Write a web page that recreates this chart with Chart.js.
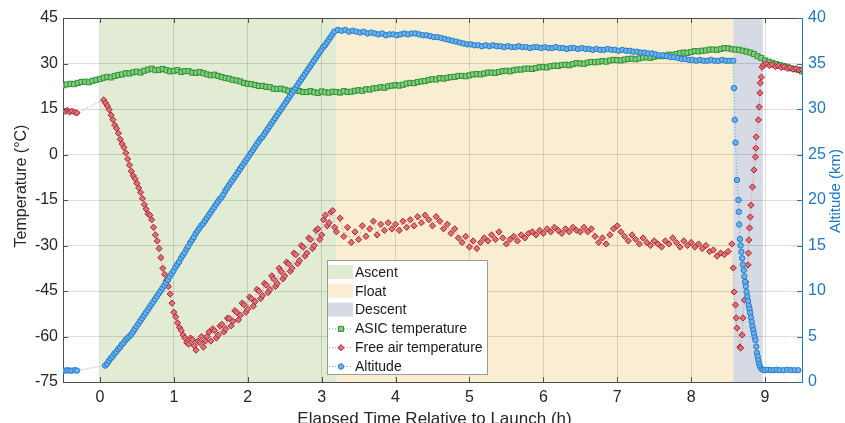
<!DOCTYPE html>
<html>
<head>
<meta charset="utf-8">
<script src="https://cdn.jsdelivr.net/npm/chart.js@4.4.0/dist/chart.umd.min.js"></script>
<style>
  html, body { margin: 0; padding: 0; background: #fff; }
  #wrap { width: 845px; height: 423px; }
</style>
</head>
<body>
<div id="wrap"><canvas id="flight" width="845" height="423"></canvas></div>
<script>
// flight phases (hours after launch)
const phaseNames = ["Ascent", "Float", "Descent"];
const phaseStart = [0, 3.2, 8.57];
const phaseEnd = [3.2, 8.57, 8.97];

const hourTicks = [0, 1, 2, 3, 4, 5, 6, 7, 8, 9];

// ASIC temperature, logged every 0.05 h from -0.5 h
const asicStart = -0.5, asicStep = 0.05;
const asicTemp = [
  22.8, 23.1, 23.3, 23.2, 23.6, 23.9, 24.0, 23.8, 24.3, 24.6,
  24.9, 25.3, 25.6, 25.4, 25.9, 26.2, 26.4, 26.8, 26.7, 27.1,
  27.3, 27.0, 27.6, 28.0, 28.3, 27.8, 27.9, 28.2, 27.8, 27.4,
  27.6, 27.8, 27.2, 27.5, 27.5, 27.0, 26.9, 27.2, 26.8, 26.4,
  26.1, 26.3, 25.9, 25.5, 25.2, 25.0, 24.6, 24.4, 24.1, 23.6,
  23.3, 23.2, 22.9, 22.6, 22.6, 22.3, 22.2, 21.7, 21.6, 21.7,
  21.4, 21.0, 21.0, 21.2, 20.9, 20.6, 20.6, 20.9, 20.5, 20.3,
  20.8, 20.5, 20.4, 20.7, 20.6, 20.4, 20.9, 20.6, 20.7, 21.0,
  21.2, 21.0, 21.5, 21.4, 21.8, 21.9, 22.2, 22.0, 22.5, 22.7,
  22.9, 22.7, 23.0, 23.4, 23.6, 23.5, 23.9, 24.1, 24.2, 24.6,
  24.8, 24.7, 25.2, 25.0, 25.3, 25.5, 25.6, 25.9, 25.9, 25.8,
  26.1, 26.4, 26.5, 26.4, 26.7, 27.0, 27.0, 26.9, 27.2, 27.5,
  27.6, 27.4, 27.8, 28.0, 28.0, 28.3, 28.3, 28.2, 28.5, 28.8,
  28.8, 28.7, 29.1, 29.3, 29.2, 29.5, 29.6, 29.4, 29.8, 30.1,
  30.0, 29.9, 30.3, 30.5, 30.4, 30.6, 30.8, 30.6, 31.0, 31.2,
  31.1, 31.0, 31.3, 31.5, 31.6, 31.4, 31.7, 32.0, 32.0, 31.9,
  32.2, 32.5, 32.4, 32.6, 32.9, 32.8, 33.1, 33.4, 33.6, 33.5,
  33.8, 34.1, 34.0, 34.2, 34.3, 34.6, 34.6, 34.5, 34.8, 35.1,
  35.0, 34.7, 34.6, 34.5, 34.2, 33.9, 33.6, 33.1, 32.4, 31.8,
  31.0, 30.6, 30.2, 29.8, 29.5, 29.2, 28.9, 28.4, 28.2, 27.9,
  27.4
];

// free air temperature
const airPreTime = [-0.5, -0.47, -0.44, -0.41, -0.38, -0.34, -0.31];
const airPreTemp = [14.5, 14.2, 14.6, 14.0, 14.3, 13.9, 13.7];
// ascent: every 0.025 h from 0.05 h
const airAscStart = 0.05, airAscStep = 0.025;
const airAscTemp = [
  18.0, 17.0, 16.0, 14.8, 13.0, 11.5, 9.7, 8.6, 7.0, 5.0,
  3.5, 2.3, 0.5, -1.5, -3.5, -5.5, -7.0, -8.0, -9.5, -11.0,
  -12.5, -14.5, -16.5, -18.0, -19.5, -20.0, -21.5, -24.0, -26.5, -28.5,
  -31.0, -34.0, -37.5, -39.5, -41.5, -43.5, -46.0, -49.0, -52.0, -53.5,
  -55.5, -57.0, -58.0, -59.5, -60.5, -62.0, -62.5, -60.5, -61.0, -63.0,
  -64.5, -61.5, -62.0, -60.0, -63.5, -61.5, -60.0, -58.5, -61.5, -57.5,
  -58.0, -60.5, -59.5, -56.5, -56.0, -58.5, -57.5, -54.0, -54.0, -56.5,
  -55.0, -51.5, -52.0, -54.5, -53.0, -49.0, -49.5, -52.0, -51.0, -47.0,
  -47.5, -50.0, -48.5, -44.5, -45.0, -47.5, -46.5, -42.5, -43.0, -45.5,
  -44.5, -40.0, -41.0, -43.5, -42.5, -37.5, -38.5, -41.0, -40.0, -35.5,
  -36.0, -38.5, -37.5, -32.5, -33.0, -36.0, -35.0, -30.0, -30.5, -33.5,
  -32.5, -27.5, -28.0, -31.0, -30.0, -25.0, -24.5, -28.0, -26.5, -21.5,
  -20.0, -23.5, -22.5, -19.0, -18.5, -24.0, -25.5
];
// float: every 0.05 h from 3.25 h
const airFloatStart = 3.25, airFloatStep = 0.05;
const airFloatTemp = [
  -21.0, -27.0, -24.0, -29.0, -25.5, -28.0,
  -23.5, -27.0, -24.5, -22.0, -26.5, -23.0, -25.0, -22.5, -24.5, -23.0,
  -25.0, -22.0, -24.0, -21.5, -23.5, -20.5, -22.5, -20.0, -21.5, -23.5,
  -20.5, -22.0, -24.5, -23.0, -26.0, -24.5, -27.5, -29.0, -27.0, -30.5,
  -28.5, -31.0, -29.0, -27.5, -28.5, -26.5, -28.0, -25.5, -27.5, -29.5,
  -28.0, -27.0, -28.5, -26.5, -27.5, -26.0, -25.5, -26.5, -25.0, -26.0,
  -24.5, -25.5, -24.0, -25.0, -26.0, -24.5, -25.5, -24.0, -25.0, -25.5,
  -24.0, -25.5, -24.5, -27.0, -29.0, -27.5, -29.5, -26.5, -24.5, -23.5,
  -25.5, -27.0, -28.5, -26.5, -28.0, -29.5, -27.5, -29.0, -30.0, -28.5,
  -29.5, -30.5, -28.5, -29.5, -27.5, -29.0, -30.5, -28.5, -30.0, -29.0,
  -30.5, -29.5, -31.0, -30.0, -32.0, -31.5, -33.5, -32.5, -33.0, -32.0,
  -29.5
];
const airDescTime = [
  8.57, 8.58, 8.60, 8.61, 8.62, 8.66, 8.67, 8.69, 8.70, 8.72,
  8.74, 8.77, 8.775, 8.78, 8.79, 8.80, 8.81, 8.83, 8.85, 8.87,
  8.875, 8.88, 8.91, 8.92, 8.93, 8.935, 8.95, 8.96, 8.98, 9.02,
  9.06, 9.10, 9.14, 9.18, 9.22, 9.26, 9.30, 9.34, 9.38, 9.42,
  9.46, 9.50
];
const airDescTemp = [
  -37.4, -45.3, -49.6, -53.9, -57.2, -63.5, -63.8, -59.5, -53.9, -48.0,
  -42.0, -36.4, -32.5, -28.2, -24.2, -20.6, -16.7, -10.7, -5.1, -0.8,
  2.1, 5.8, 11.4, 15.7, 20.3, 23.6, 25.5, 28.8, 29.6, 29.9,
  29.3, 29.6, 29.0, 29.2, 28.7, 28.9, 28.4, 28.6, 28.1, 28.3,
  27.9, 28.0
];

// altitude (km)
const altPreTime = [-0.5, -0.47, -0.44, -0.41, -0.38, -0.34, -0.31];
const altPreKm = [1.25, 1.25, 1.3, 1.25, 1.25, 1.3, 1.25];
// ascent: every 0.025 h from 0.07 h
const altAscStart = 0.07, altAscStep = 0.025;
const altAscKm = [
  1.8, 2.0, 2.3, 2.6, 2.8, 3.1, 3.3, 3.6, 3.8, 4.1,
  4.3, 4.6, 4.8, 5.0, 5.2, 5.5, 5.8, 6.1, 6.4, 6.7,
  7.0, 7.3, 7.6, 7.9, 8.2, 8.5, 8.8, 9.1, 9.4, 9.7,
  10.0, 10.3, 10.6, 10.9, 11.2, 11.6, 11.9, 12.2, 12.6, 12.9,
  13.2, 13.6, 13.9, 14.2, 14.6, 14.9, 15.3, 15.6, 15.9, 16.3,
  16.6, 16.9, 17.2, 17.4, 17.7, 18.0, 18.3, 18.6, 18.9, 19.2,
  19.5, 19.8, 20.1, 20.3, 20.6, 21.0, 21.3, 21.6, 21.9, 22.2,
  22.5, 22.8, 23.1, 23.4, 23.7, 24.0, 24.3, 24.6, 24.9, 25.2,
  25.5, 25.8, 26.1, 26.4, 26.7, 26.9, 27.2, 27.5, 27.8, 28.1,
  28.4, 28.7, 29.0, 29.3, 29.6, 29.9, 30.2, 30.5, 30.8, 31.1,
  31.4, 31.7, 32.0, 32.3, 32.6, 32.9, 33.2, 33.5, 33.8, 34.1,
  34.4, 34.7, 35.0, 35.3, 35.6, 35.9, 36.2, 36.5, 36.8, 37.0,
  37.3, 37.6, 37.9, 38.2, 38.5
];
// float: every 0.05 h from 3.22 h
const altFloatStart = 3.22, altFloatStep = 0.05;
const altFloatKm = [
  38.7, 38.6, 38.7, 38.5, 38.6, 38.5, 38.4, 38.5, 38.3, 38.4,
  38.3, 38.2, 38.3, 38.1, 38.2, 38.2, 38.1, 38.2, 38.3, 38.2,
  38.3, 38.3, 38.2, 38.1, 38.1, 38.0, 37.9, 37.9, 37.8, 37.7,
  37.6, 37.5, 37.4, 37.3, 37.2, 37.1, 37.1, 37.0, 37.0, 36.9,
  37.0, 36.9, 37.0, 36.9, 36.9, 36.8, 36.9, 36.8, 36.8, 36.9,
  36.8, 36.8, 36.7, 36.8, 36.8, 36.7, 36.8, 36.7, 36.7, 36.8,
  36.7, 36.7, 36.6, 36.7, 36.7, 36.6, 36.7, 36.6, 36.6, 36.5,
  36.6, 36.5, 36.5, 36.6, 36.5, 36.5, 36.4, 36.5, 36.4, 36.4,
  36.3, 36.3, 36.2, 36.2, 36.1, 36.1, 36.0, 35.9, 35.9, 35.8,
  35.7, 35.7, 35.6, 35.5, 35.5, 35.4, 35.4, 35.3, 35.4, 35.3,
  35.3, 35.4, 35.3, 35.3, 35.4, 35.3, 35.3
];
const altDescTime = [
  8.57, 8.58, 8.59, 8.60, 8.62, 8.64, 8.645, 8.65, 8.66, 8.67,
  8.68, 8.69, 8.70, 8.71, 8.72, 8.73, 8.74, 8.75, 8.76, 8.77,
  8.78, 8.79, 8.80, 8.81, 8.82, 8.83, 8.84, 8.85, 8.86, 8.87,
  8.88, 8.89, 8.90, 8.91, 8.92, 8.93, 8.95, 8.97, 9.00, 9.04,
  9.08, 9.12, 9.16, 9.20, 9.25, 9.30, 9.35, 9.40, 9.45
];
const altDescKm = [
  35.3, 32.3, 28.8, 26.3, 22.2, 20.0, 18.7, 17.3, 15.7, 15.0,
  14.3, 13.6, 12.9, 12.3, 11.6, 11.0, 10.5, 9.9, 9.4, 8.9,
  8.4, 8.0, 7.6, 7.1, 6.6, 6.1, 5.7, 5.3, 4.9, 4.6,
  3.9, 3.2, 2.8, 2.4, 2.0, 1.7, 1.45, 1.35, 1.3, 1.35,
  1.3, 1.3, 1.35, 1.3, 1.3, 1.35, 1.3, 1.3, 1.3
];

const FONT = "'Liberation Sans', Arial, Helvetica, sans-serif";
const AXIS_GREY = "#4d4d4d";
const ALT_BLUE = "#1f77c1";
const phaseColors = ["rgb(226,235,212)", "rgb(250,238,210)", "rgb(214,218,229)"];

function regular(start, step, vals) {
  return vals.map((v, i) => ({ x: +(start + i * step).toFixed(3), y: v }));
}
function paired(ts, vals) {
  return ts.map((t, i) => ({ x: t, y: vals[i] }));
}

const asicPoints = regular(asicStart, asicStep, asicTemp);
const airPoints = paired(airPreTime, airPreTemp)
  .concat(regular(airAscStart, airAscStep, airAscTemp))
  .concat(regular(airFloatStart, airFloatStep, airFloatTemp))
  .concat(paired(airDescTime, airDescTemp));
const altPoints = paired(altPreTime, altPreKm)
  .concat(regular(altAscStart, altAscStep, altAscKm))
  .concat(regular(altFloatStart, altFloatStep, altFloatKm))
  .concat(paired(altDescTime, altDescKm));

const seriesStyle = {
  asic: { pointStyle: "rect", radius: 3.6, fill: "#86c884", edge: "#2a962f", line: "#5cb862" },
  air: { pointStyle: "rectRot", radius: 3.1, fill: "#d8737b", edge: "#b0212d", line: "#d9828a" },
  alt: { pointStyle: "circle", radius: 2.7, fill: "#6fb1e8", edge: "#1f7ccc", line: "#6aaee3" }
};

function lineSet(label, data, st, axis, order) {
  return {
    label, data, yAxisID: axis, order,
    showLine: true,
    borderColor: st.line, borderWidth: 1, borderDash: [1, 2],
    pointStyle: st.pointStyle, pointRadius: st.radius,
    pointBackgroundColor: st.fill, pointBorderColor: st.edge, pointBorderWidth: 1
  };
}

// shaded flight phases behind the grid
const phasePlugin = {
  id: "phases",
  beforeDraw(chart) {
    const { ctx, chartArea: a, scales: { x } } = chart;
    ctx.save();
    phaseNames.forEach((n, i) => {
      const x0 = x.getPixelForValue(phaseStart[i]);
      const x1 = x.getPixelForValue(phaseEnd[i]);
      ctx.fillStyle = phaseColors[i];
      ctx.fillRect(x0, a.top, x1 - x0, a.bottom - a.top);
    });
    ctx.restore();
  }
};

// box, inward tick marks, axis titles and the legend
const framePlugin = {
  id: "frame",
  afterDraw(chart) {
    const { ctx, chartArea: a, scales: { x, y, y1 } } = chart;
    const tk = 5;
    ctx.save();
    ctx.lineWidth = 1;
    ctx.strokeStyle = AXIS_GREY;
    ctx.beginPath();
    ctx.moveTo(a.left, a.top + 0.5);
    ctx.lineTo(a.right, a.top + 0.5);
    hourTicks.forEach(h => {
      const px = Math.round(x.getPixelForValue(h)) + 0.5;
      ctx.moveTo(px, a.bottom); ctx.lineTo(px, a.bottom - tk);
      ctx.moveTo(px, a.top); ctx.lineTo(px, a.top + tk);
    });
    y.ticks.forEach(t => {
      const py = Math.round(y.getPixelForValue(t.value)) + 0.5;
      ctx.moveTo(a.left, py); ctx.lineTo(a.left + tk, py);
    });
    ctx.stroke();
    ctx.strokeStyle = ALT_BLUE;
    ctx.beginPath();
    y1.ticks.forEach(t => {
      const py = Math.round(y1.getPixelForValue(t.value)) + 0.5;
      ctx.moveTo(a.right, py); ctx.lineTo(a.right - tk, py);
    });
    ctx.stroke();

    // axis titles
    ctx.fillStyle = "#262626";
    ctx.textAlign = "center";
    ctx.textBaseline = "middle";
    ctx.font = "16px " + FONT;
    ctx.save();
    ctx.translate(22, 186);
    ctx.rotate(-Math.PI / 2);
    ctx.fillText("Temperature (°C)", 0, 0);
    ctx.restore();
    ctx.save();
    ctx.fillStyle = ALT_BLUE;
    ctx.font = "15px " + FONT;
    ctx.translate(836, 191);
    ctx.rotate(-Math.PI / 2);
    ctx.fillText("Altitude (km)", 0, 0);
    ctx.restore();
    ctx.font = "17px " + FONT;
    ctx.textBaseline = "alphabetic";
    ctx.fillText("Elapsed Time Relative to Launch (h)", (a.left + a.right) / 2 + 2, 424);

    // legend box
    const bx = 327, by = 260, bw = 160, bh = 114, row0 = 272, rowH = 18.8;
    ctx.fillStyle = "#fff";
    ctx.fillRect(bx, by, bw, bh);
    ctx.strokeStyle = "#9a9a9a";
    ctx.strokeRect(bx + 0.5, by + 0.5, bw, bh);
    const entries = [
      { text: "Ascent", patch: phaseColors[0] },
      { text: "Float", patch: phaseColors[1] },
      { text: "Descent", patch: phaseColors[2] },
      { text: "ASIC temperature", st: seriesStyle.asic },
      { text: "Free air temperature", st: seriesStyle.air },
      { text: "Altitude", st: seriesStyle.alt }
    ];
    ctx.font = "14px " + FONT;
    ctx.textAlign = "left";
    ctx.textBaseline = "middle";
    entries.forEach((e, i) => {
      const cy = row0 + i * rowH;
      if (e.patch) {
        ctx.fillStyle = e.patch;
        ctx.fillRect(bx + 1, cy - 7, 25, 14);
      } else {
        ctx.strokeStyle = e.st.line;
        ctx.setLineDash([1, 2]);
        ctx.beginPath();
        ctx.moveTo(bx + 2, cy + 0.5);
        ctx.lineTo(bx + 26, cy + 0.5);
        ctx.stroke();
        ctx.setLineDash([]);
        ctx.fillStyle = e.st.fill;
        ctx.strokeStyle = e.st.edge;
        Chart.helpers.drawPoint(ctx, {
          pointStyle: e.st.pointStyle, radius: e.st.radius, rotation: 0, borderWidth: 1
        }, bx + 14, cy + 0.5);
      }
      ctx.fillStyle = "#1a1a1a";
      ctx.fillText(e.text, bx + 28, cy + 1);
    });
    ctx.restore();
  }
};

new Chart(document.getElementById("flight"), {
  type: "scatter",
  data: {
    datasets: [
      lineSet("Altitude", altPoints, seriesStyle.alt, "y1", 0),
      lineSet("Free air temperature", airPoints, seriesStyle.air, "y", 1),
      lineSet("ASIC temperature", asicPoints, seriesStyle.asic, "y", 2)
    ]
  },
  options: {
    responsive: false,
    animation: false,
    devicePixelRatio: 1,
    events: [],
    layout: { padding: { top: 18, left: 0, right: 0, bottom: 0 } },
    plugins: { legend: { display: false }, tooltip: { enabled: false } },
    scales: {
      x: {
        type: "linear", min: -0.5, max: 9.5,
        afterBuildTicks: ax => { ax.ticks = hourTicks.map(v => ({ value: v })); },
        afterFit: ax => { ax.height = 41; },
        grid: { color: "rgba(0,0,0,0.13)", drawTicks: false },
        border: { color: AXIS_GREY, width: 1 },
        ticks: { color: "#262626", font: { size: 16, family: FONT }, padding: 6, maxRotation: 0 }
      },
      y: {
        position: "left", min: -75, max: 45,
        afterFit: ax => { ax.width = 63; },
        grid: { color: "rgba(0,0,0,0.13)", drawTicks: false },
        border: { color: AXIS_GREY, width: 1 },
        ticks: { stepSize: 15, color: "#262626", font: { size: 16, family: FONT }, padding: 5 }
      },
      y1: {
        position: "right", min: 0, max: 40,
        afterFit: ax => { ax.width = 43; },
        grid: { drawOnChartArea: false, drawTicks: false },
        border: { color: ALT_BLUE, width: 1 },
        ticks: { stepSize: 5, color: ALT_BLUE, font: { size: 16, family: FONT }, padding: 6 }
      }
    }
  },
  plugins: [phasePlugin, framePlugin]
});
</script>
</body>
</html>
